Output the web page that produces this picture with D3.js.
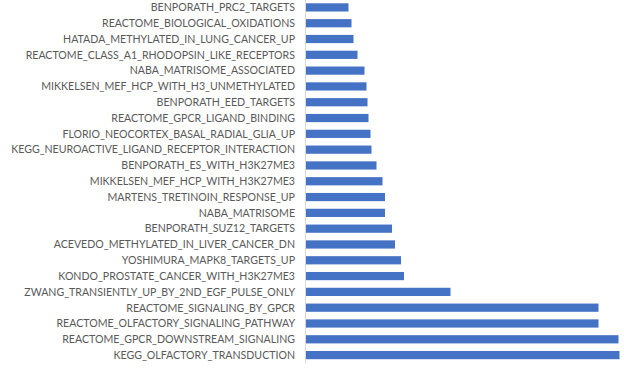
<!DOCTYPE html>
<html><head><meta charset="utf-8">
<script src="https://cdn.jsdelivr.net/npm/d3@7"></script>
<style>body{margin:0;background:#fff}svg{display:block}</style>
</head><body>
<svg id="c" width="624" height="371"></svg>
<script>
const categories = [
"BENPORATH_PRC2_TARGETS",
"REACTOME_BIOLOGICAL_OXIDATIONS",
"HATADA_METHYLATED_IN_LUNG_CANCER_UP",
"REACTOME_CLASS_A1_RHODOPSIN_LIKE_RECEPTORS",
"NABA_MATRISOME_ASSOCIATED",
"MIKKELSEN_MEF_HCP_WITH_H3_UNMETHYLATED",
"BENPORATH_EED_TARGETS",
"REACTOME_GPCR_LIGAND_BINDING",
"FLORIO_NEOCORTEX_BASAL_RADIAL_GLIA_UP",
"KEGG_NEUROACTIVE_LIGAND_RECEPTOR_INTERACTION",
"BENPORATH_ES_WITH_H3K27ME3",
"MIKKELSEN_MEF_HCP_WITH_H3K27ME3",
"MARTENS_TRETINOIN_RESPONSE_UP",
"NABA_MATRISOME",
"BENPORATH_SUZ12_TARGETS",
"ACEVEDO_METHYLATED_IN_LIVER_CANCER_DN",
"YOSHIMURA_MAPK8_TARGETS_UP",
"KONDO_PROSTATE_CANCER_WITH_H3K27ME3",
"ZWANG_TRANSIENTLY_UP_BY_2ND_EGF_PULSE_ONLY",
"REACTOME_SIGNALING_BY_GPCR",
"REACTOME_OLFACTORY_SIGNALING_PATHWAY",
"REACTOME_GPCR_DOWNSTREAM_SIGNALING",
"KEGG_OLFACTORY_TRANSDUCTION"
];
const values = [4.3,4.6,4.8,5.2,5.9,6.1,6.2,6.3,6.5,6.6,7.1,7.7,7.95,7.95,8.65,8.95,9.55,9.85,14.5,29.3,29.3,31.3,31.4];

const svg = d3.select("#c");
const x0 = 305.5;
const x = d3.scaleLinear().domain([0, 31.4]).range([x0, x0 + 314]);
const y = d3.scaleBand().domain(categories).range([-0.5, 363]).paddingInner(0.48).paddingOuter(0.24);

svg.append("g").selectAll("rect").data(categories).join("rect")
  .attr("x", x(0))
  .attr("y", d => y(d))
  .attr("width", (d,i) => x(values[i]) - x(0))
  .attr("height", y.bandwidth())
  .attr("fill", "#4472C4");

svg.append("line").attr("x1", x0).attr("x2", x0).attr("y1", 0).attr("y2", 363)
  .attr("stroke", "#d9d9d9").attr("stroke-width", 1);

svg.append("g").selectAll("text").data(categories).join("text")
  .attr("x", 295)
  .attr("y", d => y(d) + y.bandwidth()/2)
  .attr("dy", "0.36em")
  .attr("text-anchor", "end")
  .attr("font-family", "Lato, 'Open Sans', sans-serif")
  .attr("font-size", 10.6)
  .attr("fill", "#595959")
  .text(d => d);
</script>
</body></html>
